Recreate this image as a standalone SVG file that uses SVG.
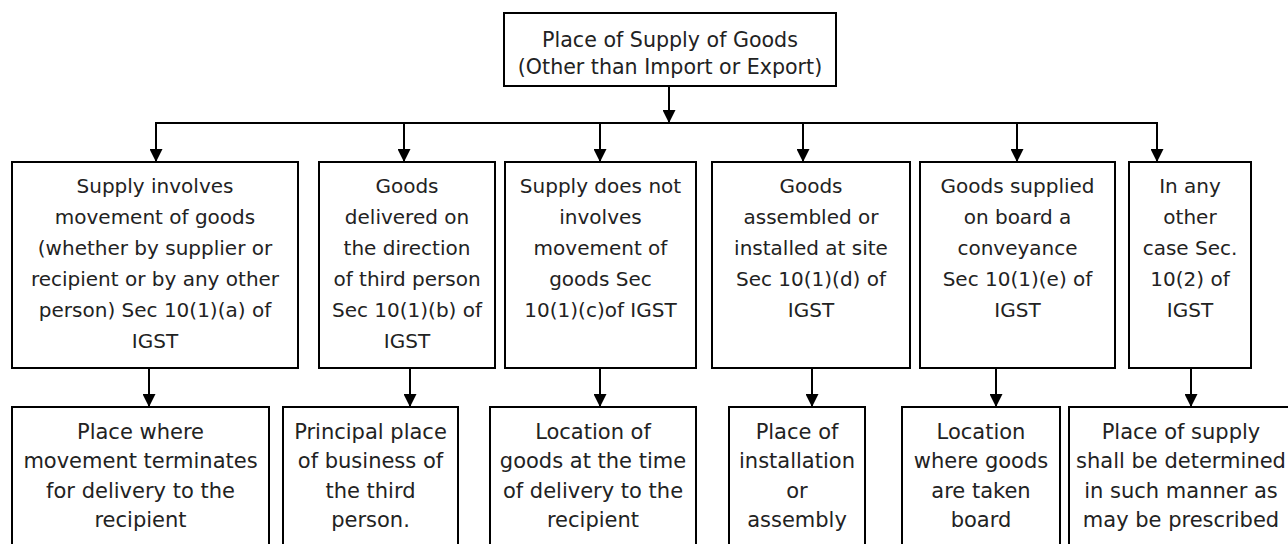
<svg xmlns="http://www.w3.org/2000/svg" width="1288" height="544" viewBox="0 0 1288 544">
<style>
.box{fill:#fff;stroke:#000;stroke-width:2}
.t{font-family:"DejaVu Sans",sans-serif;font-size:20px;fill:#222;text-anchor:middle}
.t3{font-size:21px}
.tt{font-size:20.6px}
.c{stroke:#000;stroke-width:2;fill:none}
</style>
<defs>
<marker id="ah" viewBox="0 0 12 12" refX="12" refY="6" markerWidth="13" markerHeight="13" markerUnits="userSpaceOnUse" orient="auto">
<path d="M0,0 L12,6 L0,12 Z" fill="#000"/>
</marker>
</defs>
<rect width="1288" height="544" fill="#fff"/>
<g id="connectors">
<line class="c" x1="669" y1="86" x2="669" y2="123" marker-end="url(#ah)"/>
<line class="c" x1="155" y1="123" x2="1158" y2="123"/>
<line class="c" x1="156" y1="123" x2="156" y2="162" marker-end="url(#ah)"/>
<line class="c" x1="404" y1="123" x2="404" y2="162" marker-end="url(#ah)"/>
<line class="c" x1="600" y1="123" x2="600" y2="162" marker-end="url(#ah)"/>
<line class="c" x1="803" y1="123" x2="803" y2="162" marker-end="url(#ah)"/>
<line class="c" x1="1017" y1="123" x2="1017" y2="162" marker-end="url(#ah)"/>
<line class="c" x1="1157" y1="123" x2="1157" y2="162" marker-end="url(#ah)"/>
<line class="c" x1="149" y1="368" x2="149" y2="407" marker-end="url(#ah)"/>
<line class="c" x1="410" y1="368" x2="410" y2="407" marker-end="url(#ah)"/>
<line class="c" x1="600" y1="368" x2="600" y2="407" marker-end="url(#ah)"/>
<line class="c" x1="812" y1="368" x2="812" y2="407" marker-end="url(#ah)"/>
<line class="c" x1="996" y1="368" x2="996" y2="407" marker-end="url(#ah)"/>
<line class="c" x1="1191" y1="368" x2="1191" y2="407" marker-end="url(#ah)"/>
</g>
<g id="root">
<rect class="box" x="504" y="13" width="332" height="73"/>
<text class="t tt" x="670" y="47">Place of Supply of Goods</text>
<text class="t tt" x="670" y="74">(Other than Import or Export)</text>
</g>
<g id="n1">
<rect class="box" x="12" y="162" width="286" height="206"/>
<text class="t" x="155"><tspan x="155" y="193">Supply involves</tspan><tspan x="155" y="224">movement of goods</tspan><tspan x="155" y="255">(whether by supplier or</tspan><tspan x="155" y="286">recipient or by any other</tspan><tspan x="155" y="317">person) Sec 10(1)(a) of</tspan><tspan x="155" y="348">IGST</tspan></text>
</g>
<g id="n2">
<rect class="box" x="319" y="162" width="176" height="206"/>
<text class="t" x="407"><tspan x="407" y="193">Goods</tspan><tspan x="407" y="224">delivered on</tspan><tspan x="407" y="255">the direction</tspan><tspan x="407" y="286">of third person</tspan><tspan x="407" y="317">Sec 10(1)(b) of</tspan><tspan x="407" y="348">IGST</tspan></text>
</g>
<g id="n3">
<rect class="box" x="505" y="162" width="191" height="206"/>
<text class="t" x="600.5"><tspan x="600.5" y="193">Supply does not</tspan><tspan x="600.5" y="224">involves</tspan><tspan x="600.5" y="255">movement of</tspan><tspan x="600.5" y="286">goods Sec</tspan><tspan x="600.5" y="317">10(1)(c)of IGST</tspan></text>
</g>
<g id="n4">
<rect class="box" x="712" y="162" width="198" height="206"/>
<text class="t" x="811"><tspan x="811" y="193">Goods</tspan><tspan x="811" y="224">assembled or</tspan><tspan x="811" y="255">installed at site</tspan><tspan x="811" y="286">Sec 10(1)(d) of</tspan><tspan x="811" y="317">IGST</tspan></text>
</g>
<g id="n5">
<rect class="box" x="920" y="162" width="195" height="206"/>
<text class="t" x="1017.5"><tspan x="1017.5" y="193">Goods supplied</tspan><tspan x="1017.5" y="224">on board a</tspan><tspan x="1017.5" y="255">conveyance</tspan><tspan x="1017.5" y="286">Sec 10(1)(e) of</tspan><tspan x="1017.5" y="317">IGST</tspan></text>
</g>
<g id="n6">
<rect class="box" x="1129" y="162" width="122" height="206"/>
<text class="t" x="1190"><tspan x="1190" y="193">In any</tspan><tspan x="1190" y="224">other</tspan><tspan x="1190" y="255">case Sec.</tspan><tspan x="1190" y="286">10(2) of</tspan><tspan x="1190" y="317">IGST</tspan></text>
</g>
<g id="r1">
<rect class="box" x="12" y="407" width="257" height="145"/>
<text class="t t3" x="140.5"><tspan x="140.5" y="439">Place where</tspan><tspan x="140.5" y="468">movement terminates</tspan><tspan x="140.5" y="498">for delivery to the</tspan><tspan x="140.5" y="527">recipient</tspan></text>
</g>
<g id="r2">
<rect class="box" x="283" y="407" width="175" height="145"/>
<text class="t t3" x="370.5"><tspan x="370.5" y="439">Principal place</tspan><tspan x="370.5" y="468">of business of</tspan><tspan x="370.5" y="498">the third</tspan><tspan x="370.5" y="527">person.</tspan></text>
</g>
<g id="r3">
<rect class="box" x="490" y="407" width="206" height="145"/>
<text class="t t3" x="593"><tspan x="593" y="439">Location of</tspan><tspan x="593" y="468">goods at the time</tspan><tspan x="593" y="498">of delivery to the</tspan><tspan x="593" y="527">recipient</tspan></text>
</g>
<g id="r4">
<rect class="box" x="729" y="407" width="136" height="145"/>
<text class="t t3" x="797"><tspan x="797" y="439">Place of</tspan><tspan x="797" y="468">installation</tspan><tspan x="797" y="498">or</tspan><tspan x="797" y="527">assembly</tspan></text>
</g>
<g id="r5">
<rect class="box" x="902" y="407" width="158" height="145"/>
<text class="t t3" x="981"><tspan x="981" y="439">Location</tspan><tspan x="981" y="468">where goods</tspan><tspan x="981" y="498">are taken</tspan><tspan x="981" y="527">board</tspan></text>
</g>
<g id="r6">
<rect class="box" x="1069" y="407" width="226" height="145"/>
<text class="t t3" x="1181"><tspan x="1181" y="439">Place of supply</tspan><tspan x="1181" y="468">shall be determined</tspan><tspan x="1181" y="498">in such manner as</tspan><tspan x="1181" y="527">may be prescribed</tspan></text>
</g>
</svg>
